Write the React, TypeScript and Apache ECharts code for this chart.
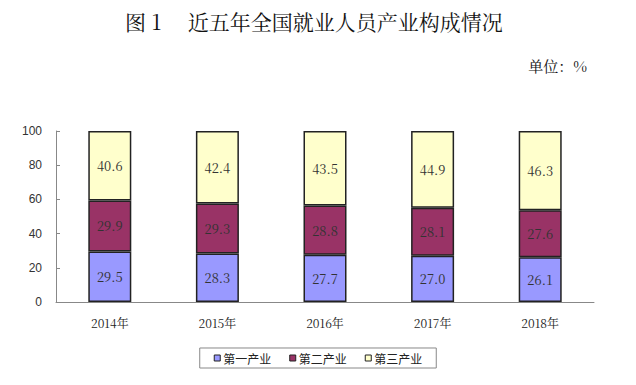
import React, { useEffect, useRef } from "react";
import * as echarts from "echarts";

const years = ["2014年", "2015年", "2016年", "2017年", "2018年"];
const primary = [29.5, 28.3, 27.7, 27.0, 26.1];
const secondary = [29.9, 29.3, 28.8, 28.1, 27.6];
const tertiary = [40.6, 42.4, 43.5, 44.9, 46.3];
const seriesNames = ["第一产业", "第二产业", "第三产业"];
const colors = ["#9999ff", "#993366", "#ffffcc"];

export default function App() {
  const ref = useRef<HTMLDivElement>(null);
  useEffect(() => {
    document.body.style.margin = "0";
    const chart = echarts.init(ref.current!, null, { renderer: "svg" });
    const data = [primary, secondary, tertiary];
    const serif = "'Noto Serif CJK SC', 'Noto Sans CJK SC', serif";
    chart.setOption({
      animation: false,
      backgroundColor: "#ffffff",
      title: [
        {
          text: "图 1　 近五年全国就业人员产业构成情况",
          left: 120,
          top: 5,
          textStyle: { fontFamily: serif, fontSize: 21, fontWeight: "normal", color: "#111" },
        },
        {
          text: "单位：%",
          right: 44,
          top: 53,
          textStyle: { fontFamily: serif, fontSize: 15, fontWeight: "normal", color: "#111" },
        },
      ],
      legend: {
        bottom: 17,
        left: "center",
        data: seriesNames,
        itemWidth: 6,
        itemHeight: 6,
        itemGap: 18,
        borderColor: "#888",
        borderWidth: 1,
        padding: [4, 14, 4, 14],
        textStyle: { fontFamily: "'Noto Sans CJK SC', sans-serif", fontSize: 12, color: "#222", padding: [0, 0, 0, -2] },
        icon: "rect",
        itemStyle: { borderColor: "#222", borderWidth: 1 },
      },
      grid: { left: 56, right: 42, top: 131, bottom: 83 },
      xAxis: {
        type: "category",
        data: years,
        axisLine: { lineStyle: { color: "#888" } },
        axisTick: { inside: true, length: 4, lineStyle: { color: "#888" } },
        axisLabel: { fontFamily: serif, fontSize: 12, color: "#222", margin: 14 },
      },
      yAxis: {
        type: "value",
        min: 0,
        max: 100,
        interval: 20,
        splitLine: { show: false },
        axisLine: { show: true, lineStyle: { color: "#888" } },
        axisTick: { show: true, inside: true, length: 4, lineStyle: { color: "#888" } },
        axisLabel: { fontFamily: "'Liberation Sans', Arial, sans-serif", fontSize: 12, color: "#333", margin: 14 },
      },
      series: seriesNames.map((name, i) => ({
        name,
        type: "bar",
        stack: "total",
        barWidth: 43,
        data: data[i],
        itemStyle: { color: colors[i], borderColor: "#222", borderWidth: 1.5 },
        label: {
          show: true,
          position: "inside",
          formatter: (p: any) => Number(p.value).toFixed(1),
          fontFamily: serif,
          fontSize: 13,
          color: "#333",
        },
      })),
    });
    return () => chart.dispose();
  }, []);
  return <div ref={ref} style={{ width: 636, height: 385 }} />;
}
